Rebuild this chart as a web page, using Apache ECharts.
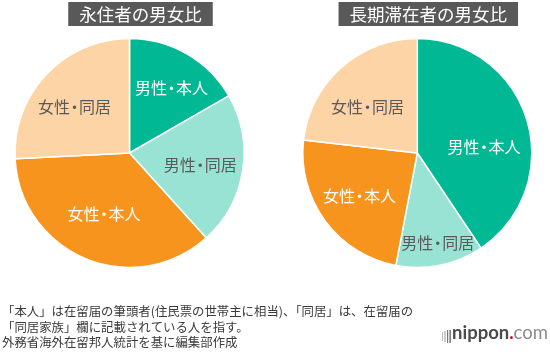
<!DOCTYPE html>
<html>
<head>
<meta charset="utf-8">
<script src="https://cdn.jsdelivr.net/npm/echarts@6/dist/echarts.min.js"></script>
<style>
html,body{margin:0;padding:0;background:#fff;}
#chart{width:550px;height:355px;}
</style>
</head>
<body>
<div id="chart"></div>
<script>
// ---- data ----
const categories = ['男性・本人', '男性・同居', '女性・本人', '女性・同居'];
const permanentValues = [16.7, 21.6, 35.9, 25.8];   // 永住者
const longStayValues = [40.6, 12.4, 23.8, 23.2];    // 長期滞在者
const chartTitles = ['永住者の男女比', '長期滞在者の男女比'];
const noteLines = [
  '「本人」は在留届の筆頭者(住民票の世帯主に相当)、「同居」は、在留届の',
  '「同居家族」欄に記載されている人を指す。',
  '外務省海外在留邦人統計を基に編集部作成'
];

// ---- styles ----
const FONT = '"Noto Sans CJK JP", "Noto Sans", sans-serif';
const sliceColors = ['#00b894', '#99e3d4', '#f7941e', '#fdd4a6'];
const labelColors = ['#ffffff', '#5a5a5a', '#ffffff', '#5a5a5a'];
const R = 114.5;
const centers = [[129.5, 153], [417.3, 153]];
const labelOffsets = [
  [[6, -3], [0, 1], [2, -5], [-3, 3]],
  [[-2, 15], [6, 20], [0, 0], [-2, 7]]
];

function pieSeries(values, idx) {
  const base = {
    type: 'pie',
    center: centers[idx],
    startAngle: 90,
    clockwise: true,
    animation: false,
    emphasis: { disabled: true },
    labelLine: { show: false }
  };
  const visible = Object.assign({}, base, {
    radius: [0, R],
    silent: true,
    label: { show: false },
    itemStyle: { borderColor: '#ffffff', borderWidth: 1.5 },
    data: categories.map((c, i) => ({
      name: c, value: values[i], itemStyle: { color: sliceColors[i] }
    }))
  });
  const labels = Object.assign({}, base, {
    radius: [23, R],
    silent: true,
    z: 5,
    itemStyle: { color: 'rgba(0,0,0,0)', borderWidth: 0 },
    label: {
      show: true, position: 'inside',
      formatter: p => {
        const parts = p.name.split('・');
        return '{t|' + parts[0] + '}{d|・}{t|' + parts[1] + '}';
      },
      fontFamily: FONT, fontSize: 16
    },
    data: categories.map((c, i) => ({
      name: c, value: values[i],
      label: {
        color: labelColors[i], offset: labelOffsets[idx][i],
        rich: {
          t: { fontFamily: FONT, fontSize: 16, color: labelColors[i] },
          d: { fontFamily: FONT, fontSize: 16, color: labelColors[i], width: 9, align: 'center' }
        }
      }
    }))
  });
  return [visible, labels];
}

const chart = echarts.init(document.getElementById('chart'), null, { renderer: 'canvas' });

const titleBox = (text, idx) => ({
  text: text,
  left: centers[idx][0],
  top: 2,
  textAlign: 'center',
  backgroundColor: '#595959',
  padding: [2, 11, 2, 11],
  textStyle: { color: '#ffffff', fontFamily: FONT, fontSize: 17.5, fontWeight: 'normal', lineHeight: 20 }
});

chart.setOption({
  backgroundColor: '#ffffff',
  animation: false,
  title: [
    titleBox(chartTitles[0], 0),
    titleBox(chartTitles[1], 1),
    {
      text: noteLines.join('\n'),
      left: 0,
      top: 302,
      padding: 2,
      textStyle: { color: '#3a3a3a', fontFamily: FONT, fontSize: 12.4, fontWeight: 'normal', lineHeight: 15.5 }
    },
    {
      text: '{a|nippon}{b|.}{c|com}',
      left: 452,
      top: 324,
      padding: 0,
      textStyle: {
        rich: {
          a: { fontFamily: 'Lato, "Open Sans", sans-serif', fontWeight: 'bold', fontSize: 18.5, color: '#4a4a4a' },
          b: { fontFamily: 'Lato, "Open Sans", sans-serif', fontWeight: 'bold', fontSize: 18.5, color: '#e60012' },
          c: { fontFamily: 'Lato, "Open Sans", sans-serif', fontWeight: 'normal', fontSize: 18.5, color: '#8a8a8a' }
        }
      }
    }
  ],
  graphic: [
    { type: 'rect', shape: { x: 442, y: 332, width: 1, height: 9 }, style: { fill: '#bbbbbb' } },
    { type: 'rect', shape: { x: 444.5, y: 331, width: 1, height: 11 }, style: { fill: '#999999' } },
    { type: 'rect', shape: { x: 447, y: 330, width: 1.2, height: 13 }, style: { fill: '#777777' } },
    { type: 'rect', shape: { x: 449.5, y: 330, width: 1.2, height: 13 }, style: { fill: '#555555' } }
  ],
  series: [].concat(pieSeries(permanentValues, 0), pieSeries(longStayValues, 1))
});
</script>
</body>
</html>
